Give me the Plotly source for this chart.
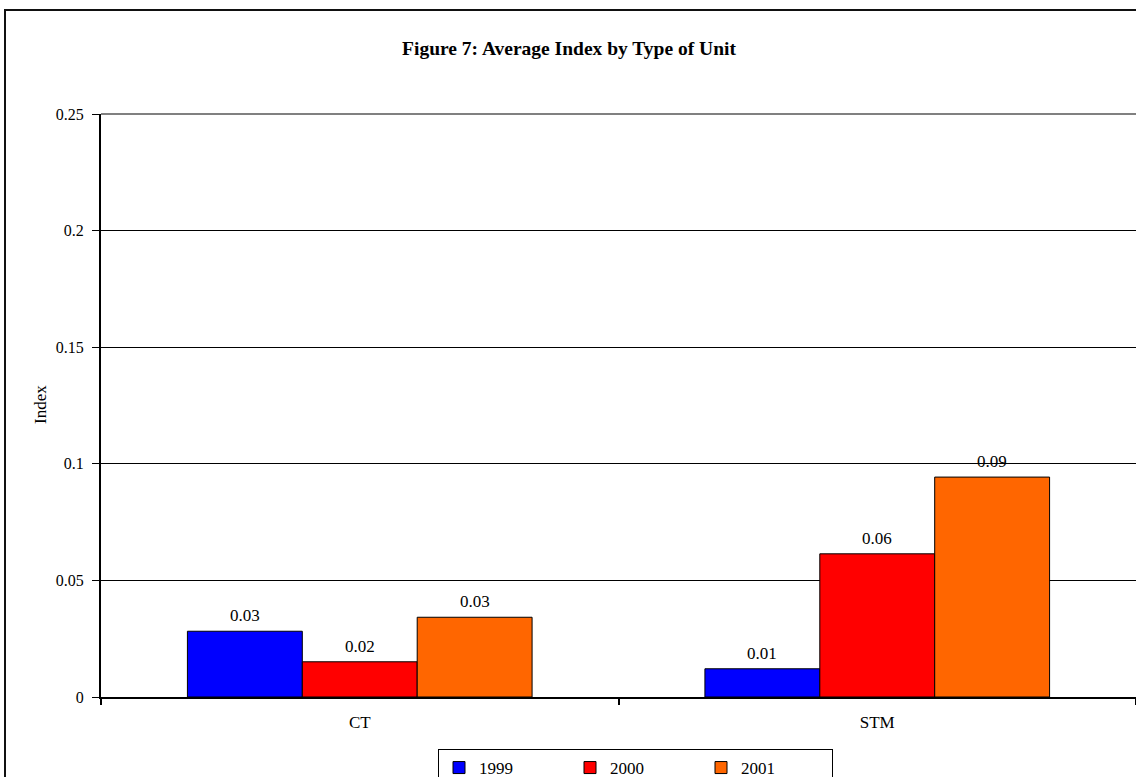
import plotly.graph_objects as go

# ---- data ----
categories = ["CT", "STM"]
years = ["1999", "2000", "2001"]
values_1999 = [0.0282, 0.0121]
values_2000 = [0.0151, 0.0614]
values_2001 = [0.0342, 0.0943]
series_values = [values_1999, values_2000, values_2001]
series_colors = ["#0000FF", "#FF0000", "#FF6600"]
y_ticks = [0, 0.05, 0.1, 0.15, 0.2, 0.25]
title_text = "Figure 7: Average Index by Type of Unit"
y_title = "Index"

FONT = "Liberation Serif, Times New Roman, serif"
W, H = 1136, 777
# plot area in screen pixels: x 101..1136, y 114..697
ML = 101
MT = 114
MR = 0
MB = H - 697
PW = W - ML - MR
PH = H - MT - MB

def px_to_paper_x(px):
    return (px - ML) / PW

def px_to_paper_y(py):
    return (H - MB - py) / PH

fig = go.Figure()
for name, vals, col in zip(years, series_values, series_colors):
    fig.add_trace(go.Bar(
        name=name, x=categories, y=vals,
        marker=dict(color=col, line=dict(color="black", width=1)),
        hoverinfo="skip",
    ))

bargap = 0.334
bar_w = (1 - bargap) / len(years)
annotations = []
for j, vals in enumerate(series_values):
    for i, v in enumerate(vals):
        annotations.append(dict(
            x=i + (j - 1) * bar_w, y=v, xref="x", yref="y",
            text=f"{v:.2f}", showarrow=False, yanchor="bottom",
            yshift=4, font=dict(family=FONT, size=17, color="black"),
        ))

annotations.append(dict(
    x=px_to_paper_x(40), y=px_to_paper_y(405), xref="paper", yref="paper",
    xanchor="center", yanchor="middle",
    text=y_title, textangle=-90, showarrow=False,
    font=dict(family=FONT, size=17, color="black"),
))

shapes = [
    # top border of plot area (grey)
    dict(type="line", xref="paper", yref="paper", x0=0, x1=1, y0=1, y1=1,
         line=dict(color="#808080", width=2)),
    # outer chart border
    dict(type="rect", xref="paper", yref="paper",
         x0=px_to_paper_x(5), x1=px_to_paper_x(W + 40),
         y0=px_to_paper_y(H + 40), y1=px_to_paper_y(10),
         line=dict(color="#111111", width=2), layer="below"),
]

fig.update_layout(
    width=W, height=H,
    margin=dict(l=ML, r=MR, t=MT, b=MB, autoexpand=False),
    paper_bgcolor="white", plot_bgcolor="white",
    barmode="group", bargap=bargap, bargroupgap=0,
    font=dict(family=FONT, size=17, color="black"),
    title=dict(text=f"<b>{title_text}</b>", x=569 / W, xref="container", xanchor="center",
               y=1 - 48 / H, yref="container", yanchor="middle",
               font=dict(family=FONT, size=19.5, color="black")),
    xaxis=dict(
        type="category", range=[-0.5, 1.5],
        showline=True, linecolor="black", linewidth=2,
        ticks="outside", tickson="boundaries", ticklen=6, tickcolor="black", tickwidth=2,
        tickfont=dict(family=FONT, size=17, color="black"),
        ticklabelstandoff=9,
        showgrid=False, zeroline=False,
    ),
    yaxis=dict(
        range=[0, 0.25], tickvals=y_ticks, ticktext=[f"{t:g}" for t in y_ticks],
        showline=True, linecolor="black", linewidth=2,
        ticks="outside", ticklen=7, tickcolor="black", tickwidth=1,
        tickfont=dict(family=FONT, size=16, color="black"),
        ticklabelstandoff=5,
        showgrid=True, gridcolor="black", gridwidth=1, zeroline=False,
    ),
    legend=dict(
        orientation="h", x=px_to_paper_x(438), y=px_to_paper_y(749),
        xanchor="left", yanchor="top",
        bgcolor="white", bordercolor="black", borderwidth=1,
        entrywidth=86, entrywidthmode="pixels", itemwidth=30,
        font=dict(family=FONT, size=17, color="black"),
        traceorder="normal",
    ),
    annotations=annotations,
    shapes=shapes,
)

fig.write_html("out.html", config={"displayModeBar": False},
               post_script="document.body.style.margin='0px';")
